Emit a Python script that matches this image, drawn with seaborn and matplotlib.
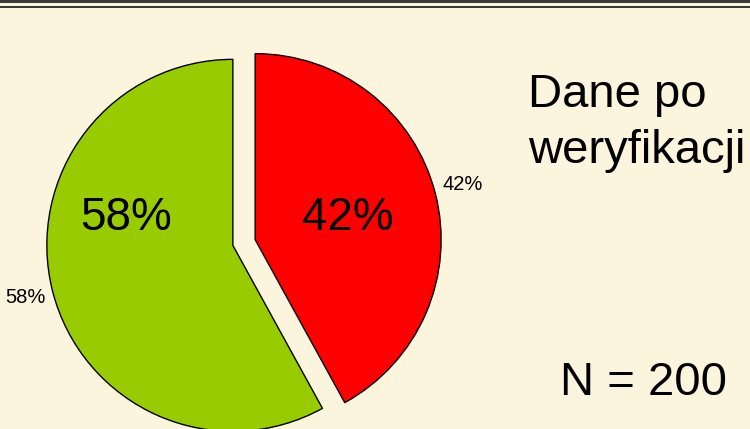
import matplotlib
matplotlib.use("Agg")
import matplotlib.pyplot as plt
import seaborn as sns

# data
categories = ["Błędne", "Poprawne"]
shares = [42, 58]
colors = ["#FF0000", "#99CC00"]
title_lines = ["Dane po", "weryfikacji"]
n_text = "N = 200"

sns.set_theme(style="white")
plt.rcParams['font.family'] = ['Liberation Sans', 'DejaVu Sans']
plt.rcParams['text.color'] = 'black'

bg = "#FCF5DE"
fig = plt.figure(figsize=(7.5, 4.29), dpi=100, facecolor=bg)
ax = fig.add_axes([0, 0, 1, 1])
ax.set_facecolor(bg)

# axes in pixel units, y pointing up
W, H = 750, 429
radius = 186
wedges, outer = ax.pie(shares,
                       colors=colors,
                       labels=[f"{v}%" for v in shares],
                       labeldistance=1.04,
                       startangle=90,
                       counterclock=False,
                       explode=[11.5, 11.5],
                       radius=radius,
                       center=(244, H - 242.5),
                       wedgeprops={'edgecolor': 'black', 'linewidth': 1.0},
                       textprops={'fontsize': 14.5, 'color': 'black'})
# small labels: right one left-aligned, left one right-aligned
outer[0].set_y(outer[0].get_position()[1] + 7)
outer[0].set_ha('left')
outer[1].set_y(outer[1].get_position()[1] - 4)
outer[1].set_ha('right')

# big labels inside the slices
ax.text(348, H - 218, f"{shares[0]}%", fontsize=33, ha='center', va='center', color='black')
ax.text(126, H - 218, f"{shares[1]}%", fontsize=33, ha='center', va='center', color='black')

# text on the right
ax.text(528, H - 107, title_lines[0], fontsize=34, ha='left', va='baseline', color='black')
ax.text(528, H - 163, title_lines[1], fontsize=34, ha='left', va='baseline', color='black')
ax.text(643, H - 395, n_text, fontsize=34, ha='center', va='baseline', color='black')

# double rule at the top of the slide
ax.axhspan(H - 3.3, H, color="#3C3C3C", lw=0)
ax.axhline(H - 6.7, color="black", lw=1.1)

ax.set_xlim(0, W)
ax.set_ylim(0, H)
ax.set_aspect('auto')
ax.axis('off')

plt.savefig("out.png", dpi=100, facecolor=bg)
